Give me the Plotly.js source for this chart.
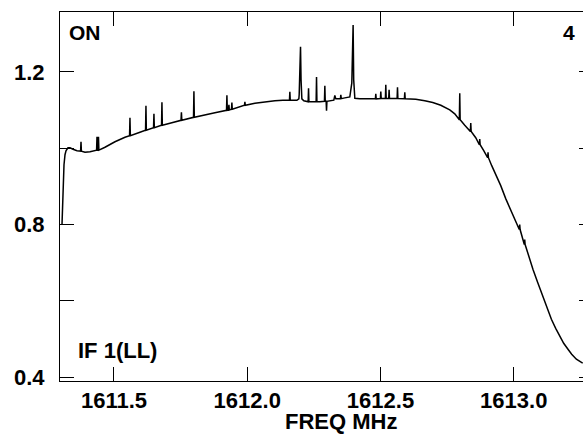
<!DOCTYPE html>
<html>
<head>
<meta charset="utf-8">
<script src="https://cdn.plot.ly/plotly-3.0.1.min.js"></script>
<style>
html,body{margin:0;padding:0;overflow:hidden;background:#fff;width:583px;height:434px;}
#chart{width:600px;height:434px;}
</style>
</head>
<body>
<div id="chart"></div>
<script>
// Frequency (MHz)
const freq = [
1611.3050,1611.3088,1611.3125,1611.3163,1611.3200,1611.3275,1611.3350,1611.3463,1611.3613,
1611.3748,1611.3763,1611.3778,1611.3913,1611.4100,1611.4348,1611.4363,1611.4378,1611.4404,1611.4419,1611.4434,
1611.4663,1611.5038,1611.5413,1611.5585,1611.5600,1611.5615,1611.5975,1611.6185,1611.6200,1611.6215,
1611.6485,1611.6500,1611.6515,1611.6785,1611.6800,1611.6815,1611.7100,1611.7516,1611.7531,1611.7546,
1611.7985,1611.8000,1611.8015,1611.8413,1611.8788,1611.9223,1611.9238,1611.9253,1611.9298,1611.9313,1611.9328,
1611.9410,1611.9425,1611.9440,1611.9898,1611.9913,1611.9928,1612.0288,1612.0663,1612.1038,1612.1338,
1612.1585,1612.1600,1612.1615,1612.1863,1612.1938,1612.1950,1612.1980,1612.2000,1612.2020,1612.2050,1612.2125,
1612.2286,1612.2301,1612.2316,1612.2425,1612.2586,1612.2601,1612.2616,1612.2725,1612.2898,1612.2913,1612.2928,
1612.2961,1612.2976,1612.2991,1612.3100,1612.3250,1612.3288,1612.3325,1612.3363,1612.3498,1612.3513,1612.3528,
1612.3663,1612.3850,1612.3925,1612.3960,1612.3974,1612.3995,1612.4038,1612.4225,1612.4600,
1612.4810,1612.4825,1612.4840,1612.4998,1612.5013,1612.5028,1612.5185,1612.5200,1612.5215,
1612.5309,1612.5324,1612.5339,1612.5624,1612.5639,1612.5654,1612.5898,1612.5913,1612.5928,
1612.6100,1612.6325,1612.6663,1612.6963,1612.7263,1612.7600,1612.7788,1612.7960,1612.7975,1612.7990,
1612.8163,1612.8373,1612.8388,1612.8403,1612.8575,1612.8710,1612.8725,1612.8740,1612.8875,
1612.9021,1612.9036,1612.9051,1612.9175,1612.9344,1612.9513,1612.9700,1612.9914,1613.0038,
1613.0210,1613.0225,1613.0240,1613.0398,1613.0413,1613.0428,1613.0563,1613.0724,1613.0900,
1613.1099,1613.1275,1613.1414,1613.1575,1613.1725,1613.1875,1613.2036,1613.2175,1613.2351,1613.2475,1613.2588
];
// Intensity
const intensity = [
0.8000,0.8915,0.9569,0.9830,0.9935,1.0013,1.0013,0.9974,0.9935,
0.9925,1.0170,0.9922,0.9895,0.9909,0.9948,1.0301,0.9948,0.9950,1.0301,0.9952,
1.0026,1.0170,1.0288,1.0327,1.0797,1.0327,1.0418,1.0471,1.1111,1.0471,
1.0536,1.0902,1.0536,1.0601,1.1203,1.0601,1.0654,1.0732,1.0941,1.0732,
1.0810,1.1490,1.0810,1.0863,1.0928,1.0994,1.1386,1.0994,1.1000,1.1138,1.1000,
1.1020,1.1198,1.1020,1.1125,1.1216,1.1125,1.1177,1.1216,1.1242,1.1255,
1.1255,1.1477,1.1255,1.1255,1.1294,1.1400,1.2000,1.2661,1.1800,1.1294,1.1242,
1.1216,1.1574,1.1216,1.1216,1.1216,1.1869,1.1216,1.1216,1.1229,1.1634,1.1229,
1.1229,1.0981,1.1229,1.1242,1.1260,1.1386,1.1294,1.1294,1.1300,1.1399,1.1300,
1.1320,1.1346,1.1712,1.2600,1.3229,1.1800,1.1307,1.1294,1.1294,
1.1294,1.1425,1.1294,1.1300,1.1485,1.1300,1.1300,1.1660,1.1300,
1.1300,1.1530,1.1300,1.1300,1.1600,1.1300,1.1299,1.1464,1.1299,
1.1299,1.1286,1.1242,1.1198,1.1125,1.1007,1.0902,1.0745,1.1438,1.0745,
1.0601,1.0439,1.0659,1.0439,1.0275,1.0092,1.0241,1.0092,0.9935,
0.9752,0.9890,0.9752,0.9543,0.9281,0.9020,0.8680,0.8340,0.8157,
0.7869,0.8000,0.7869,0.7477,0.7608,0.7477,0.7163,0.6824,0.6484,
0.6118,0.5778,0.5516,0.5281,0.5072,0.4889,0.4732,0.4601,0.4471,0.4405,0.4366
];
const xTickVals = [1611.5, 1612.0, 1612.5, 1613.0];
const xTickText = ['1611.5', '1612.0', '1612.5', '1613.0'];
const yTickVals = [0.4, 0.6, 0.8, 1.0, 1.2];
const yTickText = ['0.4', '', '0.8', '', '1.2'];

const FONT = 'Liberation Sans, Arial, Helvetica, sans-serif';
const tickFont = {family: FONT, size: 22, color: '#000', weight: 'bold'};

const trace = {
  x: freq, y: intensity, type: 'scatter', mode: 'lines',
  line: {color: '#000', width: 1.5}, hoverinfo: 'skip'
};

const layout = {
  width: 600, height: 434,
  margin: {l: 60, r: 7, t: 12, b: 53},
  paper_bgcolor: '#fff', plot_bgcolor: '#fff',
  showlegend: false,
  xaxis: {
    range: [1611.2975, 1613.2975],
    tickvals: xTickVals, ticktext: xTickText,
    ticks: 'inside', ticklen: 14, tickwidth: 1, tickcolor: '#000',
    showline: true, linecolor: '#000', linewidth: 1, mirror: 'ticks',
    showgrid: false, zeroline: false,
    tickfont: tickFont, ticklabelstandoff: 0
  },
  yaxis: {
    range: [0.39, 1.357],
    tickvals: yTickVals, ticktext: yTickText,
    ticks: 'inside', ticklen: 14, tickwidth: 1, tickcolor: '#000',
    showline: true, linecolor: '#000', linewidth: 1, mirror: 'ticks',
    showgrid: false, zeroline: false,
    tickfont: tickFont, ticklabelstandoff: 10
  },
  annotations: [
    {text: 'ON', xref: 'x', yref: 'y', x: 1611.3238, y: 1.3046, xanchor: 'left', yanchor: 'middle',
     showarrow: false, font: {family: FONT, size: 21, color: '#000', weight: 'bold'}},
    {text: '4', xref: 'x', yref: 'y', x: 1613.2363, y: 1.3046, xanchor: 'right', yanchor: 'middle',
     showarrow: false, font: {family: FONT, size: 21, color: '#000', weight: 'bold'}},
    {text: 'IF 1(LL)', xref: 'x', yref: 'y', x: 1611.3575, y: 0.4706, xanchor: 'left', yanchor: 'middle',
     showarrow: false, font: {family: FONT, size: 22, color: '#000', weight: 'bold'}},
    {text: 'FREQ MHz', xref: 'paper', yref: 'paper', x: 0.527, y: -0.111, xanchor: 'center', yanchor: 'middle',
     showarrow: false, font: {family: FONT, size: 22, color: '#000', weight: 'bold'}}
  ]
};

Plotly.newPlot('chart', [trace], layout, {displayModeBar: false, staticPlot: true});
</script>
</body>
</html>
